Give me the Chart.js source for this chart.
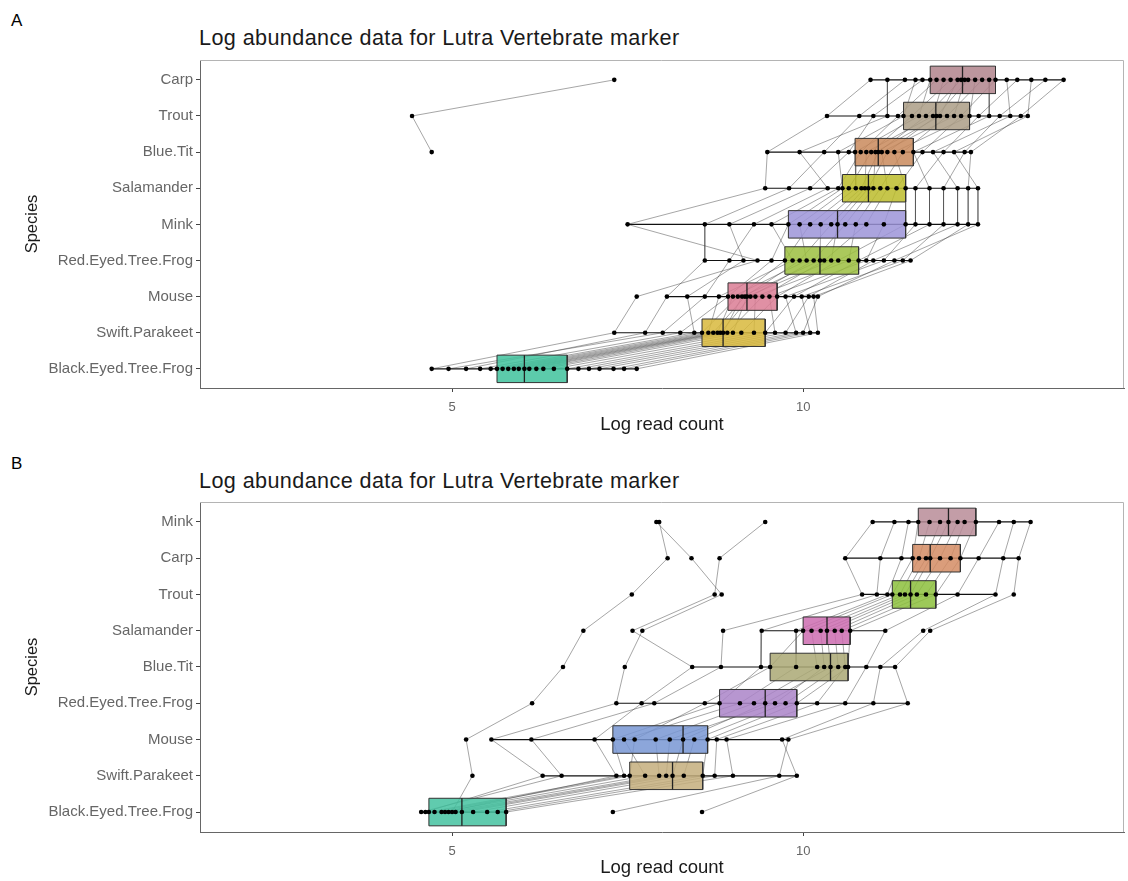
<!DOCTYPE html>
<html>
<head>
<meta charset="utf-8">
<script src="https://cdn.jsdelivr.net/npm/chart.js@4/dist/chart.umd.min.js"></script>
<style>
  body { margin: 0; background: #fff; width: 1128px; height: 881px; position: relative; overflow: hidden;
         font-family: "Liberation Sans", Arial, sans-serif; }
  .tag { position: absolute; left: 11px; font-size: 17px; color: #000; }
  .title { position: absolute; left: 199px; font-size: 21.6px; letter-spacing: 0.4px; color: #1a1a1a; white-space: nowrap; }
  canvas { position: absolute; left: 0; }
</style>
</head>
<body>
<div class="tag" style="top:11px">A</div>
<div class="title" style="top:25px">Log abundance data for Lutra Vertebrate marker</div>
<canvas id="chart-a" width="1128" height="440" style="top:0"></canvas>
<div class="tag" style="top:454px">B</div>
<div class="title" style="top:468px">Log abundance data for Lutra Vertebrate marker</div>
<canvas id="chart-b" width="1128" height="441" style="top:440px"></canvas>
<script>
// ---- panel A data (one value per sample, in species order top -> bottom) ----
const speciesA = ['Carp', 'Trout', 'Blue.Tit', 'Salamander', 'Mink', 'Red.Eyed.Tree.Frog', 'Mouse', 'Swift.Parakeet', 'Black.Eyed.Tree.Frog'];
const carpA = [10.96, 11.45, 11.2, 11.7, 11.6, 11.9, 11.81, 12.1, 12.0, 12.25, 12.2, 12.35, 12.3, 12.55, 12.45, 12.74, 12.65, 13.05, 12.9, 13.45, 13.25, 13.71, 7.31];
const troutA = [10.34, 10.8, 11.2, 11.0, 11.43, 11.35, 11.65, 11.55, 11.85, 11.75, 11.95, 11.9, 12.15, 12.05, 12.37, 12.25, 12.65, 12.5, 12.95, 12.8, 13.2, 13.1, 4.43];
const blueTitA = [9.49, 10.3, 9.95, 10.65, 10.5, 10.82, 10.74, 10.97, 10.9, 11.07, 11.03, 11.2, 11.12, 11.42, 11.3, 11.7, 11.57, 12.0, 11.85, 12.3, 12.15, 12.39, 4.71];
const salamanderA = [9.46, 9.8, 10.35, 10.1, 10.56, 10.5, 10.75, 10.65, 10.88, 10.83, 11.0, 10.93, 11.2, 11.1, 11.46, 11.33, 11.8, 11.6, 12.2, 12.0, 12.49, 12.35, null];
const minkA = [7.5, 8.6, 9.3, 8.95, 9.79, 9.55, 10.1, 9.95, 10.4, 10.25, 10.6, 10.49, 10.9, 10.75, 11.46, 11.15, 11.8, 11.6, 12.2, 12.0, 12.49, 12.35, null];
const redEyedA = [9.35, 8.6, 8.95, 9.15, 9.55, 9.85, 9.74, 10.05, 9.95, 10.24, 10.15, 10.4, 10.3, 10.65, 10.5, 10.9, 10.79, 11.15, 11.0, 11.42, 11.3, 11.53, null];
const mouseA = [7.63, 8.06, 8.6, 8.35, 8.93, 8.8, 9.07, 9.0, 9.17, 9.13, 9.25, 9.2, 9.42, 9.32, 9.63, 9.52, 9.87, 9.75, 10.08, 9.98, 10.21, 10.15, null];
const swiftA = [7.31, 7.75, 8.0, 8.45, 8.25, 8.65, 8.56, 8.78, 8.72, 8.86, 8.82, 9.0, 8.92, 9.3, 9.12, 9.6, 9.46, 9.9, 9.75, 10.1, 10.0, 10.21, null];
const blackEyedA = [4.71, 5.2, 4.95, 5.55, 5.4, 5.72, 5.64, 5.88, 5.8, 6.03, 5.95, 6.2, 6.1, 6.45, 6.3, 6.8, 6.64, 7.1, 6.95, 7.45, 7.3, 7.63, null];
// box statistics, species order
const lowA = [10.96, 10.34, 9.49, 9.46, 7.5, 8.6, 8.06, 7.31, 4.71];
const q1A = [11.81, 11.43, 10.74, 10.56, 9.79, 9.74, 8.93, 8.56, 5.64];
const medA = [12.27, 11.89, 11.07, 10.93, 10.49, 10.24, 9.2, 8.86, 6.03];
const q3A = [12.74, 12.37, 11.57, 11.46, 11.46, 10.79, 9.63, 9.46, 6.64];
const highA = [13.71, 13.2, 12.39, 12.49, 12.49, 11.53, 10.21, 10.21, 7.63];
const colorsA = ['#b0848c', '#ab9d86', '#c98a5c', '#bcbc2c', '#9c94d8', '#9cc040', '#da7c94', '#d8b83c', '#3fc29c'];

// ---- panel B data ----
const speciesB = ['Mink', 'Carp', 'Trout', 'Salamander', 'Blue.Tit', 'Red.Eyed.Tree.Frog', 'Mouse', 'Swift.Parakeet', 'Black.Eyed.Tree.Frog'];
const minkB = [10.99, 11.3, 11.64, 11.5, 11.8, 12.07, 11.95, 12.2, 12.46, 12.3, 12.79, 13.24, 13.0, 7.91, 9.46, 7.95];
const carpB = [10.6, 11.1, 11.56, 11.4, 11.65, 11.81, 11.75, 11.95, 12.24, 12.1, 12.5, 13.07, 12.85, 8.41, 8.81, 8.07];
const troutB = [10.84, 11.05, 11.27, 11.2, 11.38, 11.53, 11.45, 11.62, 11.89, 11.75, 12.2, 13.0, 12.74, 8.84, 8.74, 7.56];
const salamanderB = [8.86, 9.41, 10.0, 9.9, 10.12, 10.34, 10.25, 10.45, 10.67, 10.55, 11.17, 11.81, 11.71, 7.71, 7.57, 6.87];
const blueTitB = [8.83, 9.4, 9.53, 9.9, 10.2, 10.39, 10.3, 10.5, 10.64, 10.6, 10.9, 11.31, 11.1, 7.46, 8.42, 6.58];
const redEyedB = [7.88, 8.81, 8.6, 9.1, 9.3, 9.46, 9.6, 9.75, 9.91, 10.2, 10.6, 11.49, 11.0, 7.34, 7.7, 6.14];
const mouseB = [6.13, 7.29, 7.6, 7.45, 7.9, 8.29, 8.1, 8.45, 8.64, 8.77, 8.91, 9.79, 9.7, 5.56, 7.03, 5.2];
const swiftB = [6.56, 7.45, 7.53, 7.75, 7.95, 8.14, 8.05, 8.3, 8.57, 8.74, 9.0, 9.66, 9.91, 6.29, 7.34, 5.29];
const blackEyedB = [4.56, 4.67, 4.75, 4.85, 4.95, 5.14, 5.05, 5.3, 5.5, 5.65, 5.77, 7.29, 8.56, 4.62, 4.9, 5.0];
const lowB = [10.99, 10.6, 10.84, 9.41, 8.43, 7.34, 5.56, 6.29, 4.56];
const q1B = [11.64, 11.56, 11.27, 10.0, 9.53, 8.81, 7.29, 7.53, 4.67];
const medB = [12.07, 11.81, 11.53, 10.34, 10.39, 9.46, 8.29, 8.14, 5.14];
const q3B = [12.46, 12.24, 11.89, 10.67, 10.64, 9.91, 8.64, 8.57, 5.77];
const highB = [13.24, 13.07, 12.74, 11.17, 11.31, 11.49, 9.79, 9.91, 5.77];
const colorsB = ['#b98c98', '#d48c64', '#8cc03c', '#cc6cb0', '#aaa874', '#aa84c8', '#7896d4', '#c4ae7c', '#44c2a0'];

const xTicks = [5, 10];
const BOX_HALF = 0.38;

Chart.defaults.font.family = '"Liberation Sans", Arial, sans-serif';

// top/right edges of the panel frame
const framePlugin = {
  id: 'frame',
  afterDraw(chart) {
    const { ctx, chartArea: a } = chart;
    ctx.save();
    ctx.strokeStyle = '#b4b4b4';
    ctx.lineWidth = 1;
    ctx.beginPath();
    ctx.moveTo(a.left, a.top + 0.5);
    ctx.lineTo(a.right - 0.5, a.top + 0.5);
    ctx.lineTo(a.right - 0.5, a.bottom);
    ctx.stroke();
    ctx.restore();
  }
};

function buildDatasets(rows, low, q1, med, q3, high, colors) {
  const sets = [];
  const nSamples = rows[0].length;

  // grey lines joining each sample across species
  for (let s = 0; s < nSamples; s++) {
    const pts = [];
    rows.forEach((r, i) => { if (r[s] !== null) pts.push({ x: r[s], y: i }); });
    sets.push({
      data: pts, showLine: true, borderColor: 'rgba(50,50,50,0.55)', borderWidth: 0.8,
      pointRadius: 0, order: 5
    });
  }

  rows.forEach((r, i) => {
    // whisker
    sets.push({
      data: [{ x: low[i], y: i }, { x: high[i], y: i }], showLine: true,
      borderColor: '#111', borderWidth: 1.2, pointRadius: 0, order: 4
    });
    // box
    sets.push({
      data: [
        { x: q1[i], y: i - BOX_HALF }, { x: q3[i], y: i - BOX_HALF },
        { x: q3[i], y: i + BOX_HALF }, { x: q1[i], y: i + BOX_HALF },
        { x: q1[i], y: i - BOX_HALF }
      ],
      showLine: true, fill: 'shape', backgroundColor: colors[i] + 'd9',
      borderColor: '#333', borderWidth: 1, pointRadius: 0, order: 3
    });
    // median
    sets.push({
      data: [{ x: med[i], y: i - BOX_HALF }, { x: med[i], y: i + BOX_HALF }], showLine: true,
      borderColor: '#222', borderWidth: 1.3, pointRadius: 0, order: 2
    });
  });

  // sample points
  const pts = [];
  rows.forEach((r, i) => r.forEach(v => { if (v !== null) pts.push({ x: v, y: i }); }));
  sets.push({
    data: pts, pointRadius: 2.3, pointBackgroundColor: '#000', pointBorderWidth: 0, order: 1
  });
  return sets;
}

function makeChart(id, labels, rows, low, q1, med, q3, high, colors, geo) {
  return new Chart(document.getElementById(id), {
    type: 'scatter',
    data: { datasets: buildDatasets(rows, low, q1, med, q3, high, colors) },
    options: {
      responsive: false,
      animation: false,
      events: [],
      layout: { padding: { top: geo.top, right: 4, left: 0, bottom: 0 } },
      plugins: { legend: { display: false }, tooltip: { enabled: false } },
      scales: {
        x: {
          type: 'linear', min: 1.41, max: 14.57,
          afterBuildTicks: s => { s.ticks = xTicks.map(v => ({ value: v })); },
          afterFit: s => { s.height = geo.xHeight; },
          ticks: { color: '#666', font: { size: 13 }, padding: 8 },
          grid: { drawOnChartArea: false, tickLength: 4, color: '#444' },
          border: { color: '#666' },
          title: { display: true, text: 'Log read count', color: '#1a1a1a', font: { size: 18.5 },
                   padding: { top: 0, bottom: geo.titlePad } }
        },
        y: {
          type: 'linear', reverse: true, min: geo.yMin, max: geo.yMax,
          afterBuildTicks: s => { s.ticks = labels.map((_, i) => ({ value: i })); },
          afterFit: s => { s.width = 200; },
          ticks: { color: '#666', font: { size: 15 }, padding: 3, autoSkip: false,
                   callback: v => labels[v] },
          grid: { drawOnChartArea: false, tickLength: 4, color: '#444' },
          border: { color: '#666' },
          title: { display: true, text: 'Species', color: '#1a1a1a', font: { size: 16.5 },
                   padding: { top: 23, bottom: 0 } }
        }
      }
    },
    plugins: [framePlugin]
  });
}

makeChart('chart-a', speciesA,
  [carpA, troutA, blueTitA, salamanderA, minkA, redEyedA, mouseA, swiftA, blackEyedA],
  lowA, q1A, medA, q3A, highA, colorsA,
  { top: 60, xHeight: 52, titlePad: 4, yMin: -0.55, yMax: 8.53 });

makeChart('chart-b', speciesB,
  [minkB, carpB, troutB, salamanderB, blueTitB, redEyedB, mouseB, swiftB, blackEyedB],
  lowB, q1B, medB, q3B, highB, colorsB,
  { top: 62, xHeight: 49, titlePad: 2, yMin: -0.55, yMax: 8.55 });
</script>
</body>
</html>
